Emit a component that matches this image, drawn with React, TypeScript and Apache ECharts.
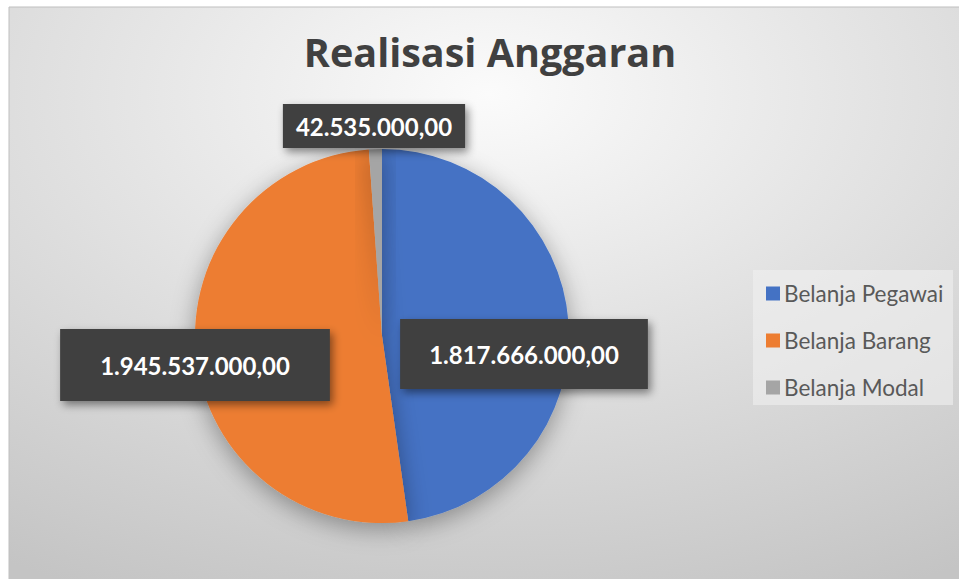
import React, { useEffect, useRef } from "react";
import * as echarts from "echarts";

const categories = ["Belanja Pegawai", "Belanja Barang", "Belanja Modal"];
const values = [1817666000, 1945537000, 42535000];
const colors = ["#4472C4", "#ED7D31", "#A5A5A5"];
const titleText = "Realisasi Anggaran";

// label box centres and paddings (layout only)
const labelCenters = [
  [524, 354],
  [195, 365],
  [374, 126],
];
const labelPaddings = [
  [23, 29],
  [24, 40],
  [10, 13],
];

function fmt(v: number): string {
  const s = Math.round(v).toString();
  const withDots = s.replace(/\B(?=(\d{3})+(?!\d))/g, ".");
  return withDots + ",00";
}

export default function App() {
  const ref = useRef<HTMLDivElement>(null);
  useEffect(() => {
    if (!ref.current) return;
    const chart = echarts.init(ref.current, null, { renderer: "svg" });
    const font = "Lato, 'Open Sans', sans-serif";
    chart.setOption({
      animation: false,
      backgroundColor: "#ffffff",
      graphic: [
        {
          type: "rect",
          z: -10,
          silent: true,
          shape: { x: 9, y: 7, width: 960, height: 580 },
          style: {
            fill: {
              type: "radial",
              x: 0.5,
              y: 0.15,
              r: 0.95,
              colorStops: [
                { offset: 0, color: "#fbfbfb" },
                { offset: 0.45, color: "#e2e2e2" },
                { offset: 1, color: "#c4c4c4" },
              ],
            },
            stroke: "#bfbfbf",
            lineWidth: 1,
          },
        },
        {
          type: "rect",
          z: -5,
          silent: true,
          shape: { x: 753, y: 270, width: 200, height: 135 },
          style: { fill: "rgba(240,240,240,0.6)" },
        },
      ],
      title: {
        text: titleText,
        left: 485,
        top: 27,
        textAlign: "center",
        textStyle: {
          fontFamily: "'Open Sans', Lato, sans-serif",
          fontWeight: "bold",
          fontSize: 39.5,
          color: "#404040",
        },
      },
      legend: {
        orient: "vertical",
        left: 754,
        top: 270,
        padding: [12, 10, 12, 12],
        itemGap: 24,
        itemWidth: 14,
        itemHeight: 14,
        icon: "rect",
        data: categories,
        textStyle: {
          fontFamily: font,
          fontSize: 22.5,
          lineHeight: 20,
          color: "#595959",
          padding: [0, 0, 0, -1],
        },
      },
      series: [
        {
          type: "pie",
          center: [382, 336],
          radius: 187,
          startAngle: 90,
          clockwise: true,
          color: colors,
          itemStyle: {
            shadowBlur: 25,
            shadowColor: "rgba(0,0,0,0.35)",
            shadowOffsetY: 6,
          },
          emphasis: { disabled: true },
          labelLine: { show: false },
          label: {
            show: true,
            position: "inside",
            formatter: (p: any) => fmt(p.value),
            fontFamily: font,
            fontWeight: "bold",
            fontSize: 24,
            color: "#ffffff",
            backgroundColor: "#404040",
            shadowColor: "rgba(0,0,0,0.45)",
            shadowBlur: 8,
            shadowOffsetX: 3,
            shadowOffsetY: 4,
          },
          labelLayout: (params: any) => {
            const c = labelCenters[params.dataIndex];
            return { x: c[0], y: c[1], align: "center", verticalAlign: "middle" };
          },
          data: categories.map((name, i) => ({
            name,
            value: values[i],
            label: { padding: labelPaddings[i] },
          })),
        },
      ],
    });
    return () => chart.dispose();
  }, []);
  return (
    <div
      ref={ref}
      style={{ position: "fixed", left: 0, top: 0, width: 959, height: 579 }}
    />
  );
}
